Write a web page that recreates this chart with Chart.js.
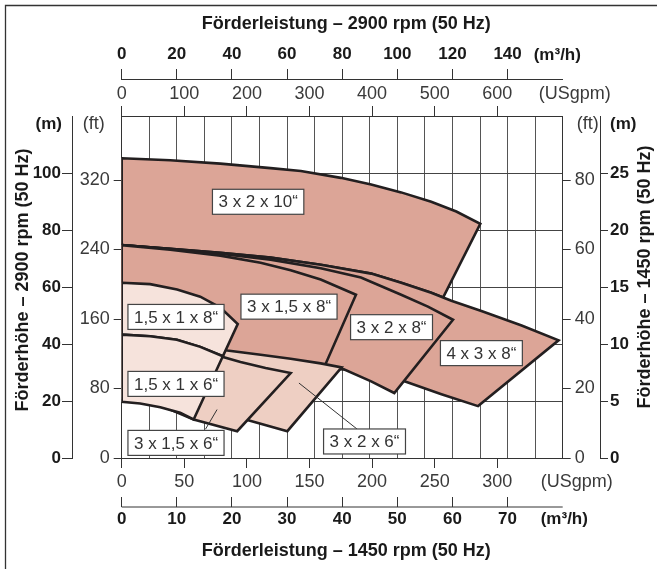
<!DOCTYPE html>
<html>
<head>
<meta charset="utf-8">
<script src="https://cdn.jsdelivr.net/npm/chart.js@4.4.0/dist/chart.umd.min.js"></script>
<style>
  html, body { margin: 0; padding: 0; background: #fff; }
</style>
</head>
<body>
<canvas id="pumpChart" width="657" height="569"></canvas>
<script>
// Kennfelder: x = Förderleistung (m³/h bei 2900 rpm), y = Förderhöhe (m bei 2900 rpm)
const pumpNames = ['3 x 2 x 10“', '4 x 3 x 8“', '3 x 2 x 8“', '3 x 1,5 x 8“',
                   '3 x 2 x 6“', '3 x 1,5 x 6“', '1,5 x 1 x 8“', '1,5 x 1 x 6“'];

const field3x2x10 = [[0,105.2],[17.6,104.5],[35.8,103.3],[54.0,101.7],[65.0,100.7],[79.5,98.3],[90.5,96.0],
  [101.4,93.2],[112.3,89.9],[121.4,86.5],[130.1,82.2],
  [116.6,56.3],[112.3,58.0],[101.4,61.5],[90.5,64.7],[72.2,67.8],[54.0,70.3],[35.8,72.0],[17.6,73.4],
  [0,74.7],[0,105.2]];
const field4x3x8 = [[0,74.7],[17.6,73.4],[35.8,72.0],[54.0,70.3],[72.2,67.8],[90.5,64.7],[101.4,61.5],
  [112.3,58.0],[119.6,55.2],[130.5,51.6],[145.1,46.5],[158.5,41.3],
  [129.3,18.2],[116.0,22.4],[102.6,26.9],[90.5,29.7],[72.2,32.5],[37.6,36.0],[0,39.9],[0,74.7]];
const field3x2x8 = [[0,74.7],[17.6,73.3],[35.8,71.7],[54.0,69.6],[72.2,66.6],[86.8,63.3],[101.4,57.3],
  [111.1,53.1],[120.2,48.5],
  [98.9,22.8],[90.5,26.9],[80.6,31.1],[72.2,31.8],[57.7,32.9],[37.6,35.0],[0,38.8],[0,74.7]];
const field3x15x8 = [[0,74.7],[17.6,73.1],[35.8,71.0],[50.4,68.5],[61.3,65.9],[72.2,62.6],[85.0,57.3],
  [73.3,31.5],[57.7,33.2],[37.6,35.3],[0,39.2],[0,74.7]];
const field3x2x6 = [[0,44.4],[21.2,40.9],[38.3,37.7],[50.4,36.2],[61.3,34.8],[72.2,33.2],[79.8,31.8],
  [60.1,9.4],[45.6,13.3],[28.5,16.4],[0,21.3],[0,44.4]];
const field3x15x6 = [[0,43.3],[10.3,42.7],[20.0,41.5],[28.5,39.0],[35.8,35.7],[43.1,33.7],[52.2,31.6],
  [61.3,29.8],[41.9,9.4],[26.1,13.5],[14.0,18.5],[0,20.6],[0,43.3]];
const field15x1x8 = [[0,61.5],[10.3,61.0],[20.1,59.1],[28.5,56.6],[35.8,52.8],[42.1,47.0],
  [36.7,35.7],[28.5,39.0],[20.0,41.5],[10.3,42.7],[0,43.3],[0,61.5]];
const field15x1x6 = [[0,43.3],[10.3,42.7],[20.0,41.5],[28.5,39.0],[36.7,35.7],
  [26.1,13.5],[21.2,15.9],[14.0,17.8],[6.7,19.1],[0,19.7],[0,43.3]];

const pumpFields = [field3x2x10, field4x3x8, field3x2x8, field3x15x8,
                    field3x2x6, field3x15x6, field15x1x8, field15x1x6];
const pumpTone = ['dark', 'dark', 'dark', 'dark', 'mid', 'mid', 'light', 'light'];

// Beschriftungen (Mittelpunkt im Datenraum)
const labelAt = [[49.5,89.9],[130.5,36.8],[97.9,45.9],[60.7,53.1],[88.1,5.8],[19.7,5.3],[19.7,49.5],[19.7,26.0]];
const leader3x15x6 = [[34.6,17.0],[30.4,10.1]];
const leader3x2x6 = [[64.3,26.3],[85.6,10.0]];

// Achsenbeschriftungen
const topM3hTicks = [0, 20, 40, 60, 80, 100, 120, 140];
const topUsgpmTicks = [0, 100, 200, 300, 400, 500, 600];
const bottomUsgpmTicks = [0, 50, 100, 150, 200, 250, 300];
const bottomM3hTicks = [0, 10, 20, 30, 40, 50, 60, 70];
const leftMTicks = [0, 20, 40, 60, 80, 100];
const leftFtTicks = [0, 80, 160, 240, 320];
const rightFtTicks = [0, 20, 40, 60, 80];
const rightMTicks = [0, 5, 10, 15, 20, 25];

const USGPM_PER_M3H = 4.40287;
const FT_PER_M = 3.28084;

const FAMILY = '"Liberation Sans", Arial, Helvetica, sans-serif';
const plainFont = { family: FAMILY, size: 18 };
const boldFont = { family: FAMILY, size: 17, weight: 'bold' };
const tones = { dark: '#dca597', mid: '#eecfc3', light: '#f6e3dc' };

function tickAxis(axis, position, weight, size, values, toData, font, tickLen, pad, showBorder) {
  return {
    type: 'linear', axis, position, weight,
    min: 0, max: axis === 'x' ? 160 : 120,
    afterBuildTicks: s => { s.ticks = values.map(v => ({ value: toData(v) })); },
    afterFit: s => { if (axis === 'x') s.height = size; else s.width = size; },
    ticks: {
      autoSkip: false, maxRotation: 0, padding: pad, font,
      color: font.weight ? '#1a1a1a' : '#3a3a3a',
      callback: (v, i) => String(values[i])
    },
    grid: { drawOnChartArea: false, drawTicks: true, tickLength: tickLen, tickColor: '#333', tickWidth: 1 },
    border: { display: showBorder, color: '#333', width: 1 }
  };
}

const datasets = pumpFields.map((pts, i) => ({
  label: pumpNames[i],
  data: pts.map(p => ({ x: p[0], y: p[1] })),
  showLine: true,
  areaColor: tones[pumpTone[i]],
  borderColor: '#231f20',
  borderWidth: 2.6,
  borderJoinStyle: 'miter',
  pointRadius: 0,
  tension: 0,
  order: pumpFields.length + 1 - i
}));
[leader3x15x6, leader3x2x6].forEach(pts => datasets.push({
  label: 'leader',
  data: pts.map(p => ({ x: p[0], y: p[1] })),
  showLine: true, borderColor: '#333', borderWidth: 1, pointRadius: 0, order: 0
}));

// füllt jedes Feld direkt vor seiner Umrandung
const fieldFill = {
  id: 'fieldFill',
  beforeDatasetDraw(chart, args) {
    const ds = chart.data.datasets[args.index];
    if (!ds.areaColor) return;
    const ctx = chart.ctx;
    ctx.save();
    ctx.beginPath();
    args.meta.data.forEach((p, i) => i ? ctx.lineTo(p.x, p.y) : ctx.moveTo(p.x, p.y));
    ctx.closePath();
    ctx.fillStyle = ds.areaColor;
    ctx.fill();
    ctx.restore();
  }
};

function fontStr(f) {
  return (f.weight ? 'bold ' : '') + f.size + 'px ' + f.family;
}

const decor = {
  id: 'decor',
  afterDatasetsDraw(chart) {
    const ctx = chart.ctx, xs = chart.scales.x, ys = chart.scales.y;
    ctx.save();
    ctx.font = fontStr({ family: FAMILY, size: 17 });
    ctx.textAlign = 'center';
    ctx.textBaseline = 'middle';
    labelAt.forEach((p, i) => {
      const cx = xs.getPixelForValue(p[0]), cy = ys.getPixelForValue(p[1]);
      const w = ctx.measureText(pumpNames[i]).width + 12, h = 25;
      ctx.fillStyle = '#fff';
      ctx.fillRect(cx - w / 2, cy - h / 2, w, h);
      ctx.strokeStyle = '#444';
      ctx.lineWidth = 1.2;
      ctx.strokeRect(cx - w / 2, cy - h / 2, w, h);
      ctx.fillStyle = '#333';
      ctx.fillText(pumpNames[i], cx, cy + 1);
    });
    ctx.restore();
  },
  afterDraw(chart) {
    const ctx = chart.ctx, a = chart.chartArea, s = chart.scales;
    ctx.save();
    // Rahmen
    ctx.strokeStyle = '#333';
    ctx.lineWidth = 1.3;
    ctx.beginPath();
    ctx.moveTo(5.5, chart.height); ctx.lineTo(5.5, 5.5); ctx.lineTo(chart.width, 5.5);
    ctx.stroke();
    // Achslinie unten (Ticks nach oben)
    const yl = s.xM3Bot.top + 10;
    ctx.lineWidth = 1;
    ctx.beginPath();
    ctx.moveTo(s.xM3Bot.left, yl); ctx.lineTo(s.xM3Bot.right, yl);
    ctx.stroke();
    // Einheiten
    ctx.textBaseline = 'middle';
    const unit = (t, x, y, f, align) => {
      ctx.font = fontStr(f); ctx.textAlign = align;
      ctx.fillStyle = f.weight ? '#1a1a1a' : '#3a3a3a';
      ctx.fillText(t, x, y);
    };
    unit('(m³/h)', a.right - 29, s.xM3Top.bottom - 24, boldFont, 'left');
    unit('(USgpm)', a.right - 24, s.xUsTop.bottom - 22, plainFont, 'left');
    unit('(USgpm)', a.right - 22, s.xUsBot.top + 24, plainFont, 'left');
    unit('(m³/h)', a.right - 22, s.xM3Bot.top + 22, boldFont, 'left');
    unit('(m)', s.yML.right - 10, a.top + 8, boldFont, 'right');
    unit('(ft)', s.yFtL.right - 17, a.top + 8, plainFont, 'right');
    unit('(ft)', s.yFtR.left + 14, a.top + 8, plainFont, 'left');
    unit('(m)', s.yMR.left + 10, a.top + 8, boldFont, 'left');
    // Titel
    const titleFont = { family: FAMILY, size: 18, weight: 'bold' };
    const cx = (a.left + a.right) / 2 + 4;
    unit('Förderleistung – 2900 rpm (50 Hz)', cx, 24, titleFont, 'center');
    unit('Förderleistung – 1450 rpm (50 Hz)', cx, 551, titleFont, 'center');
    ctx.translate(23, 280);
    ctx.rotate(-Math.PI / 2);
    unit('Förderhöhe – 2900 rpm (50 Hz)', 0, 0, titleFont, 'center');
    ctx.setTransform(1, 0, 0, 1, 0, 0);
    ctx.translate(645, 277);
    ctx.rotate(-Math.PI / 2);
    unit('Förderhöhe – 1450 rpm (50 Hz)', 0, 0, titleFont, 'center');
    ctx.restore();
  }
};

new Chart(document.getElementById('pumpChart'), {
  type: 'scatter',
  data: { datasets },
  options: {
    responsive: false,
    animation: false,
    layout: { padding: { top: 36, bottom: 39, left: 32, right: 25 } },
    plugins: { legend: { display: false }, tooltip: { enabled: false } },
    scales: {
      x: {
        type: 'linear', position: 'bottom', weight: -5, min: 0, max: 160,
        ticks: { display: false, stepSize: 10 },
        grid: { color: '#555', lineWidth: 1, drawTicks: false },
        border: { display: false },
        afterFit: s => { s.height = 0; }
      },
      y: {
        type: 'linear', position: 'left', weight: -5, min: 0, max: 120,
        ticks: { display: false, stepSize: 20 },
        grid: { color: '#444', lineWidth: 1, drawTicks: false },
        border: { display: false },
        afterFit: s => { s.width = 0; }
      },
      xUsTop: tickAxis('x', 'top', 0, 37, topUsgpmTicks, v => v / USGPM_PER_M3H, plainFont, 10, 1, true),
      xM3Top: tickAxis('x', 'top', 1, 43, topM3hTicks, v => v, boldFont, 10, 4, true),
      xUsBot: tickAxis('x', 'bottom', 0, 39, bottomUsgpmTicks, v => v * 2 / USGPM_PER_M3H, plainFont, 10, 3, true),
      xM3Bot: tickAxis('x', 'bottom', 1, 33, bottomM3hTicks, v => v * 2, boldFont, 10, 2, false),
      yFtL: tickAxis('y', 'left', 0, 49.7, leftFtTicks, v => v / FT_PER_M, plainFont, 8, 4, true),
      yML: tickAxis('y', 'left', 1, 40, leftMTicks, v => v, boldFont, 10, 1, true),
      yFtR: tickAxis('y', 'right', 0, 37.3, rightFtTicks, v => v * 4 / FT_PER_M, plainFont, 8, 4, true),
      yMR: tickAxis('y', 'right', 1, 32, rightMTicks, v => v * 4, boldFont, 8, 2, true)
    }
  },
  plugins: [fieldFill, decor]
});
</script>
</body>
</html>
